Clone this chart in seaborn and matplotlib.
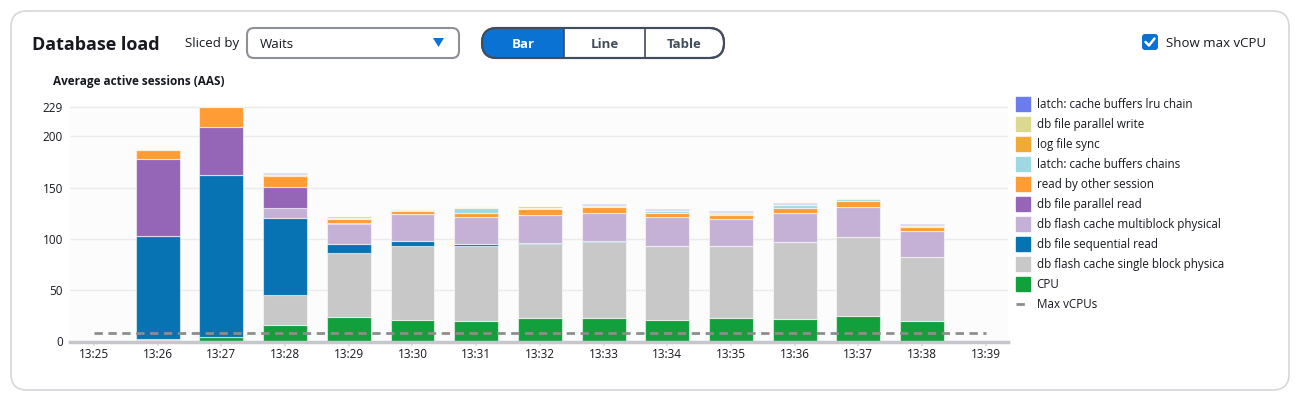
import numpy as np
import pandas as pd
import matplotlib.pyplot as plt
import seaborn as sns
from matplotlib.patches import FancyBboxPatch, Polygon
from matplotlib.lines import Line2D

# time slots on the x axis
time_labels = ['13:25', '13:26', '13:27', '13:28', '13:29', '13:30', '13:31',
               '13:32', '13:33', '13:34', '13:35', '13:36', '13:37', '13:38', '13:39']
bar_slots = ['13:26', '13:27', '13:28', '13:29', '13:30', '13:31', '13:32',
             '13:33', '13:34', '13:35', '13:36', '13:37', '13:38']

# wait events, legend order (top of stack first)
wait_names = [
    'latch: cache buffers lru chain',
    'db file parallel write',
    'log file sync',
    'latch: cache buffers chains',
    'read by other session',
    'db file parallel read',
    'db flash cache multiblock physical',
    'db file sequential read',
    'db flash cache single block physica',
    'CPU',
]
wait_colors = ['#6b7cec', '#dbd98f', '#f0aa35', '#9ed9e3', '#ff9c33',
               '#9566b8', '#c6b1d6', '#0773b3', '#c8c8c8', '#12a03c']

# average active sessions per wait event, one value per bar slot
lru_chain = [0.6, 0.2, 0.4, 0.3, 0.3, 0.2, 0.3, 1.1, 0.4, 1.1, 0.5, 0.3, 0.3]
parallel_write = [0.6, 0.3, 1.2, 1.5, 0.6, 0.5, 1.2, 0.6, 0.7, 1.6, 0.6, 0.6, 0.8]
log_file_sync = [0.6, 0.2, 0.8, 0.8, 0.5, 0.3, 0.6, 0.5, 0.6, 0.6, 0.3, 0.3, 0.3]
buffers_chains = [0.0, 0.0, 0.5, 0.6, 0.7, 4.6, 1.2, 1.0, 2.0, 0.8, 2.9, 1.5, 0.8]
read_by_other = [8.8, 19.6, 10.0, 3.9, 2.9, 4.2, 5.0, 5.4, 3.6, 4.0, 5.0, 5.6, 4.1]
parallel_read = [74.7, 47.2, 21.0, 1.0, 0.3, 0.2, 0.2, 0.2, 0.2, 0.2, 0.2, 0.1, 0.1]
flash_multiblock = [0.0, 0.0, 9.5, 19.2, 26.5, 26.0, 27.3, 27.2, 27.9, 26.5, 28.1, 29.5, 25.0]
sequential_read = [100.2, 157.3, 75.5, 8.7, 4.5, 2.0, 0.9, 1.0, 0.3, 0.1, 0.1, 0.1, 0.1]
flash_single = [1.0, 0.5, 29.3, 62.5, 72.1, 72.7, 72.4, 74.0, 72.0, 70.1, 74.7, 77.2, 62.3]
cpu = [1.5, 4.0, 15.7, 24.0, 20.9, 20.3, 22.9, 23.2, 21.0, 22.6, 22.2, 24.5, 20.3]

max_vcpu = 8
y_ticks = [0, 50, 100, 150, 200, 229]

series = [lru_chain, parallel_write, log_file_sync, buffers_chains, read_by_other,
          parallel_read, flash_multiblock, sequential_read, flash_single, cpu]

rows = []
for name, vals in zip(wait_names, series):
    for slot, v in zip(bar_slots, vals):
        rows.append({'slot': time_labels.index(slot), 'wait': name, 'aas': v})
df = pd.DataFrame(rows)

sns.set_theme(style='white')
plt.rcParams['font.family'] = ['Open Sans', 'DejaVu Sans']

W, H = 1311, 407
fig = plt.figure(figsize=(W / 100, H / 100), dpi=100)
inch = fig.dpi_scale_trans


def box(x0, y0, x1, y1, r, **kw):
    # pixel box (top-left origin) drawn in inches so corners stay round
    p = FancyBboxPatch((x0 / 100, (H - y1) / 100), (x1 - x0) / 100, (y1 - y0) / 100,
                       boxstyle=f'round,pad=0,rounding_size={r / 100}',
                       transform=inch, **kw)
    fig.add_artist(p)
    return p


def label(x, y, s, **kw):
    fig.text(x / W, 1 - y / H, s, va='center', **kw)


# outer card, kept behind the chart axes
box(11, 11, 1289, 390, 16, facecolor='white', edgecolor='#d5d7da', linewidth=1.2,
    zorder=-10)

label(32, 45, 'Database load', fontsize=13, fontweight='bold', color='#16191f')
label(185, 44, 'Sliced by', fontsize=9.5, color='#16191f')

# dropdown
box(247, 28, 459, 58, 7, facecolor='white', edgecolor='#8d9096', linewidth=1.5)
label(260, 45, 'Waits', fontsize=9.5, color='#16191f')
fig.add_artist(Polygon([(433 / 100, (H - 38) / 100), (444 / 100, (H - 38) / 100),
                        (438.5 / 100, (H - 47) / 100)], closed=True,
                       facecolor='#0972d3', edgecolor='none', transform=inch))

# segmented control
pill = box(482, 28, 724, 58, 15, facecolor='white', edgecolor='#414d5c', linewidth=1.5)
blue = box(482, 28, 564, 58, 0, facecolor='#0972d3', edgecolor='none')
blue.set_clip_path(pill)
pill_edge = box(482, 28, 724, 58, 15, facecolor='none', edgecolor='#414d5c', linewidth=1.5)
for xd in (564, 645):
    fig.add_artist(Line2D([xd / 100, xd / 100], [(H - 58) / 100, (H - 28) / 100],
                          color='#414d5c', linewidth=1.2, transform=inch))
label(523, 45, 'Bar', fontsize=9.5, fontweight='bold', color='white', ha='center')
label(604.5, 45, 'Line', fontsize=9.5, fontweight='bold', color='#414d5c', ha='center')
label(684.5, 45, 'Table', fontsize=9.5, fontweight='bold', color='#414d5c', ha='center')

# show max vCPU checkbox
box(1142, 34, 1158, 50, 3, facecolor='#0972d3', edgecolor='none')
fig.add_artist(Line2D([1145.5 / 100, 1149 / 100, 1154.5 / 100],
                      [(H - 42) / 100, (H - 45.5) / 100, (H - 38.5) / 100],
                      color='white', linewidth=1.8, transform=inch))
label(1166, 43.5, 'Show max vCPU', fontsize=9.5, color='#16191f')

label(53, 81, 'Average active sessions (AAS)', fontsize=8.5, fontweight='bold',
      color='#16191f')

# chart area
ax = fig.add_axes([70 / W, 65.5 / H, (1008 - 70) / W, (341.5 - 106) / H])
ax.set_facecolor('#fcfcfc')

sns.histplot(data=df, x='slot', weights='aas', hue='wait', hue_order=wait_names,
             palette=dict(zip(wait_names, wait_colors)), multiple='stack',
             discrete=True, shrink=0.69, alpha=1, edgecolor=(1, 1, 1, 0.55),
             linewidth=0.8, legend=False, ax=ax)

ax.plot([0, len(time_labels) - 1], [max_vcpu, max_vcpu], color='#8d8d8d',
        linestyle=(0, (3, 2)), linewidth=2, zorder=5)

ax.set_xlim(-0.377, 14.35)
ax.set_ylim(0, 229.5)
ax.set_xticks(range(len(time_labels)))
ax.set_xticklabels(time_labels)
ax.set_yticks(y_ticks)
ax.set_yticklabels([str(t) for t in y_ticks])
ax.grid(axis='y', color='#e9ebed', linewidth=1)
ax.set_axisbelow(True)
ax.tick_params(axis='x', length=3, color='#dedede', labelsize=8.5, pad=2,
               labelcolor='#16191f', bottom=True)
ax.tick_params(axis='y', length=0, labelsize=8.5, pad=5, labelcolor='#16191f')
ax.set_xlabel('')
ax.set_ylabel('')
for side in ('top', 'right', 'left'):
    ax.spines[side].set_visible(False)
ax.spines['bottom'].set_color('#c6c6cd')
ax.spines['bottom'].set_linewidth(2.5)

# legend
handles = [Line2D([], [], marker='s', linestyle='none', markersize=9.5,
                  markerfacecolor=c, markeredgecolor=c, label=n)
           for n, c in zip(wait_names, wait_colors)]
handles.append(Line2D([], [], color='#8d8d8d', linestyle=(0, (3, 2)), linewidth=2,
                      label='Max vCPUs'))
fig.legend(handles=handles, loc='upper left', bbox_to_anchor=(1011 / W, 1 - 93 / H),
           frameon=False, fontsize=8.4, labelspacing=0.6, handlelength=1.2,
           handletextpad=0.6, borderaxespad=0, labelcolor='#16191f')

fig.savefig('out.png', dpi=100)
plt.close(fig)
